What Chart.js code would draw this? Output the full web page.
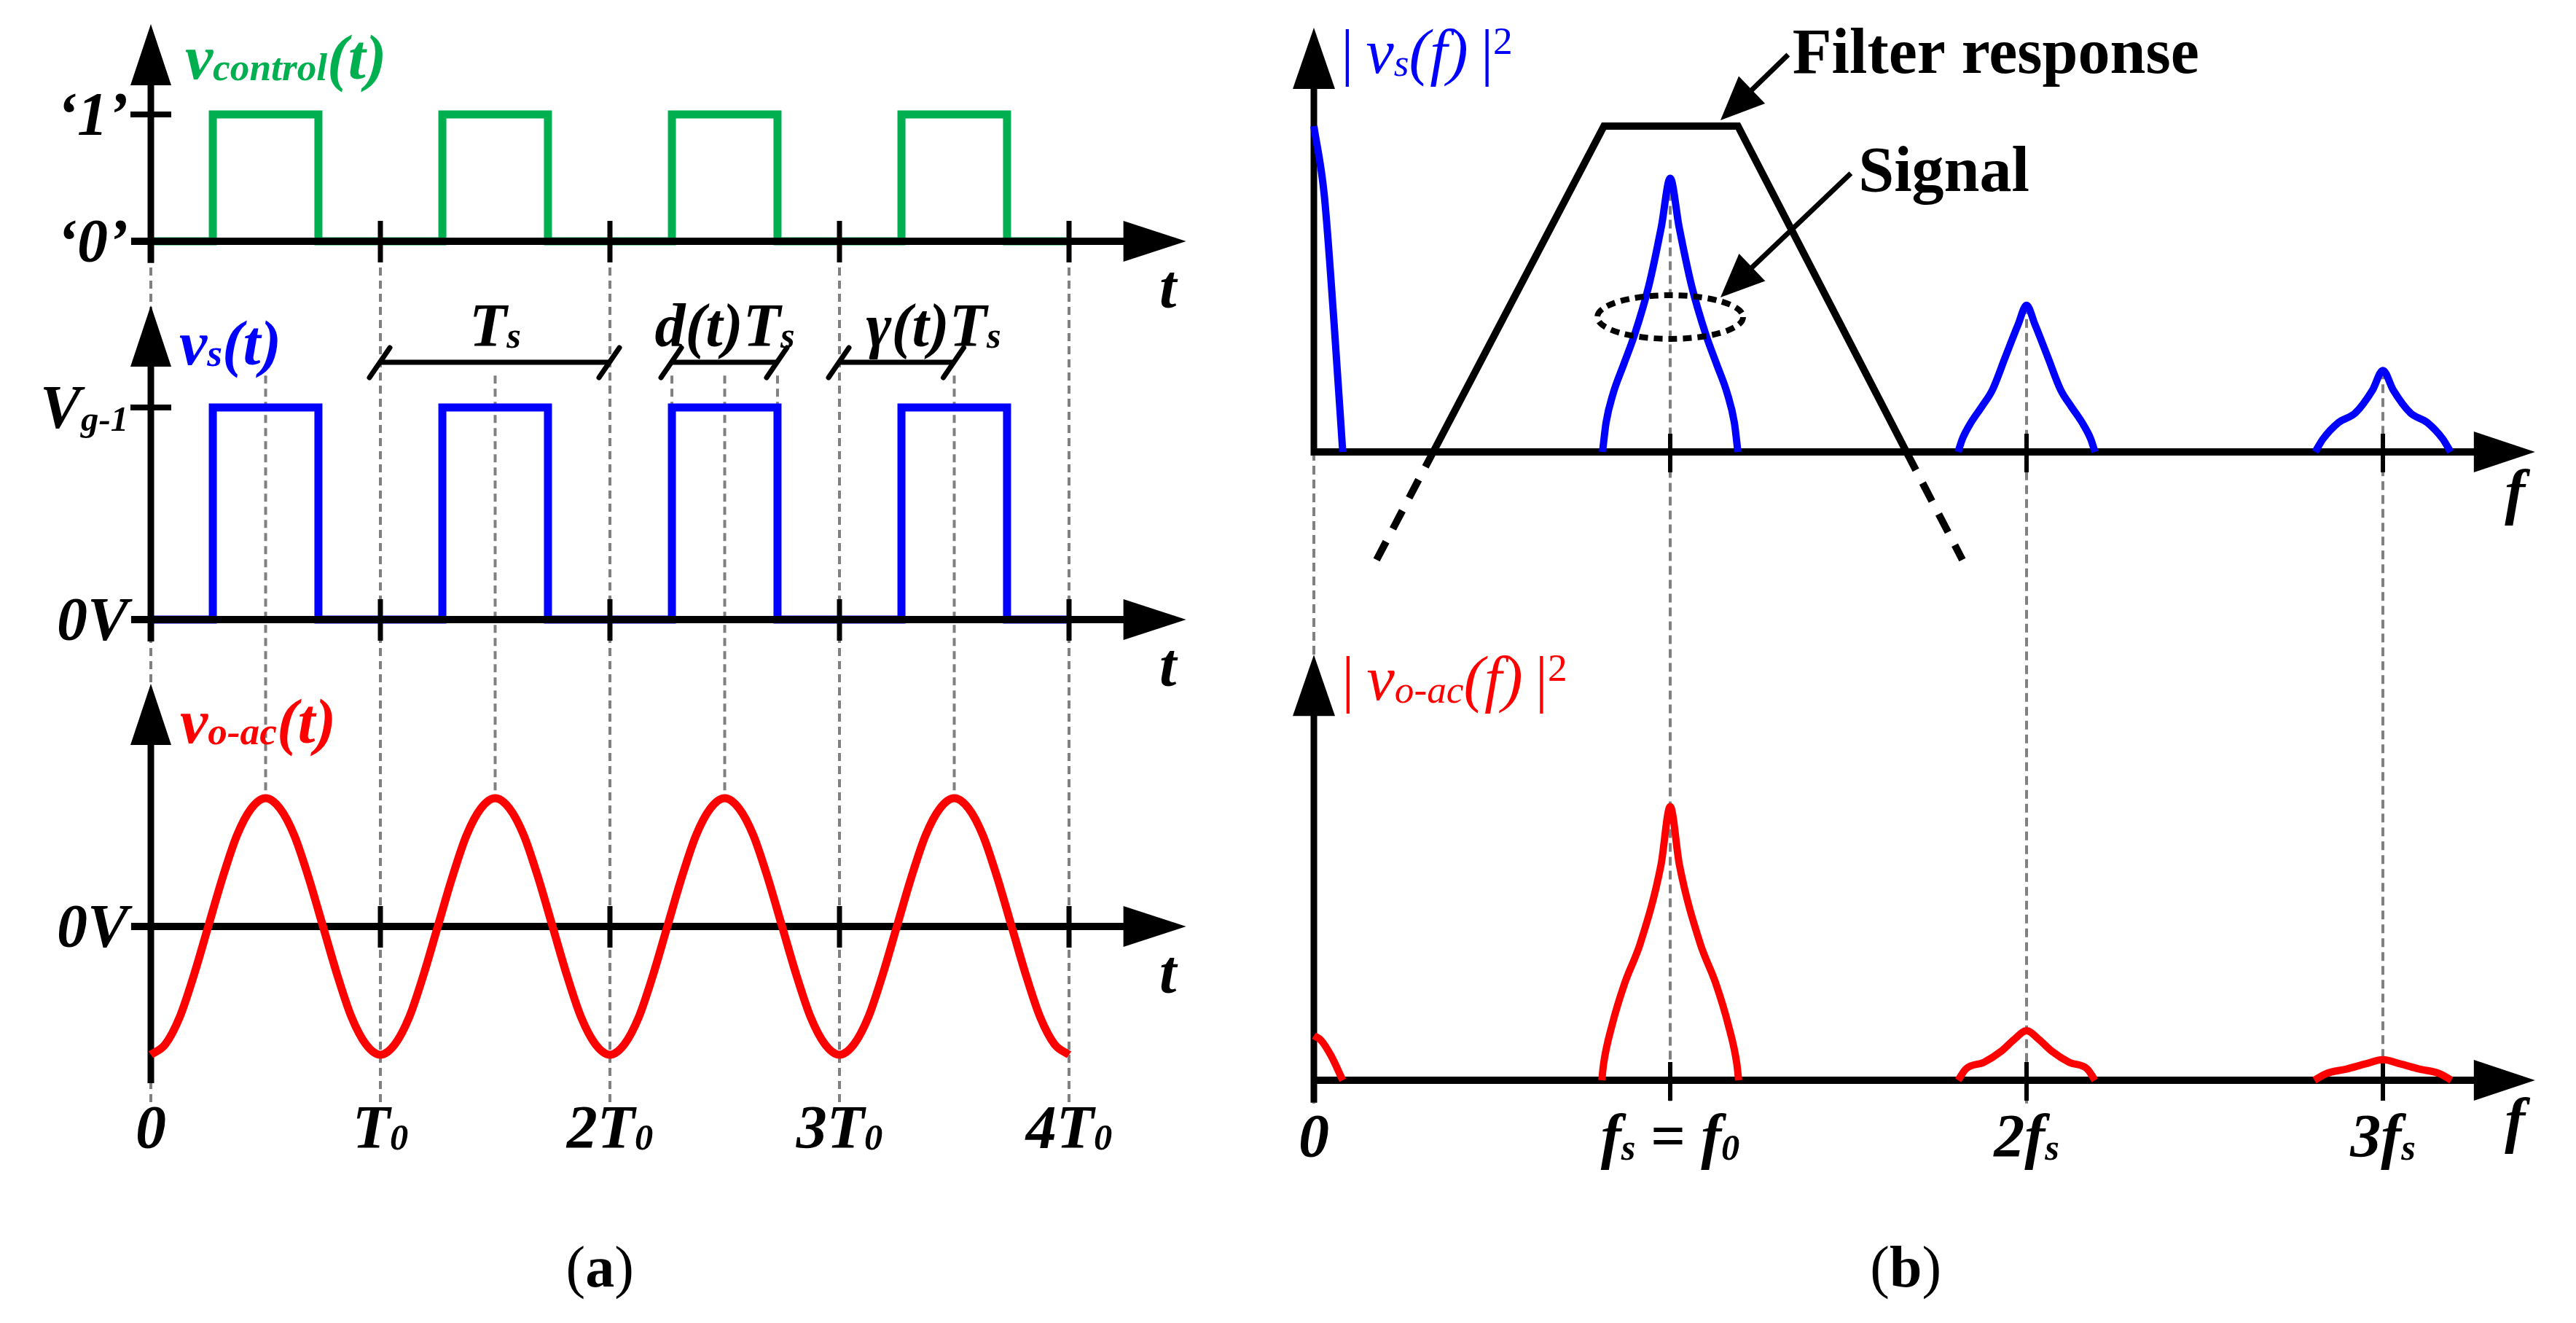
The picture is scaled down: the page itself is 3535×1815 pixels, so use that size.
<!DOCTYPE html>
<html><head><meta charset="utf-8">
<script src="https://cdn.jsdelivr.net/npm/chart.js@4/dist/chart.umd.min.js"></script>
<style>html,body{margin:0;padding:0;background:#fff;overflow:hidden}canvas{display:block}</style>
</head><body>
<canvas id="c" width="3535" height="1815"></canvas>
<script>
// ================= DATA =================
// (a) time domain, t in units of T0
const tTicks = [0, 1, 2, 3, 4];
const tTickLabels = ['0', 'T_0', '2T_0', '3T_0', '4T_0'];
const halfPeriods = [0.5, 1.5, 2.5, 3.5];
const ctrlRise = [0.27, 1.27, 2.27, 3.27];
const ctrlFall = [0.73, 1.73, 2.73, 3.73];
const vsRise = [0.27, 1.27, 2.27, 3.27];
const vsFall = [0.73, 1.73, 2.73, 3.73];
const voT = [0,0.0625,0.125,0.1875,0.25,0.3125,0.375,0.4375,0.5,0.5625,0.625,0.6875,0.75,0.8125,0.875,0.9375,
  1,1.0625,1.125,1.1875,1.25,1.3125,1.375,1.4375,1.5,1.5625,1.625,1.6875,1.75,1.8125,1.875,1.9375,
  2,2.0625,2.125,2.1875,2.25,2.3125,2.375,2.4375,2.5,2.5625,2.625,2.6875,2.75,2.8125,2.875,2.9375,
  3,3.0625,3.125,3.1875,3.25,3.3125,3.375,3.4375,3.5,3.5625,3.625,3.6875,3.75,3.8125,3.875,3.9375,4];
const voV = [-1,-0.92,-0.71,-0.38,0,0.38,0.71,0.92,1,0.92,0.71,0.38,0,-0.38,-0.71,-0.92,
  -1,-0.92,-0.71,-0.38,0,0.38,0.71,0.92,1,0.92,0.71,0.38,0,-0.38,-0.71,-0.92,
  -1,-0.92,-0.71,-0.38,0,0.38,0.71,0.92,1,0.92,0.71,0.38,0,-0.38,-0.71,-0.92,
  -1,-0.92,-0.71,-0.38,0,0.38,0.71,0.92,1,0.92,0.71,0.38,0,-0.38,-0.71,-0.92,-1];
const levelLabelsA = ['‘1’', 'V_{g-1}', null];
const zeroLabelsA = ['‘0’', '0V', '0V'];
const namesA = ['v_{control}(t)', 'v_s(t)', 'v_{o-ac}(t)'];
const markerFrom = [1, 2.27, 3];
const markerTo = [2, 2.73, 3.5];
const markerLabels = ['T_s', 'd(t)T_s', 'γ(t)T_s'];

// (b) frequency domain, f in units of fs
const fTicks = [0, 1, 2, 3];
const fTickLabels = ['0', 'f_s = f_0', '2f_s', '3f_s'];
const filterF = [0.335, 0.814, 1.19, 1.663];
const filterG = [0, 1, 1, 0];
const filterLowF = [0.176, 0.335];
const filterLowG = [-0.331, 0];
const filterHighF = [1.663, 1.82];
const filterHighG = [0, -0.331];
const vsDcF = [0, 0.029, 0.057, 0.081];
const vsDcP = [1.0, 0.79, 0.39, 0];
const vsH1F = [0.81,0.82,0.84,0.87,0.9,0.94,0.975,1,1.025,1.06,1.1,1.13,1.16,1.18,1.19];
const vsH1P = [0,0.09,0.18,0.27,0.36,0.51,0.69,0.84,0.69,0.51,0.36,0.27,0.18,0.09,0];
const vsH2F = [1.808,1.82,1.844,1.875,1.904,1.94,1.976,2,2.024,2.06,2.096,2.125,2.156,2.18,2.192];
const vsH2P = [0,0.04,0.09,0.14,0.19,0.29,0.39,0.45,0.39,0.29,0.19,0.14,0.09,0.04,0];
const vsH3F = [2.81,2.832,2.875,2.923,2.971,3,3.029,3.077,3.125,3.168,3.19];
const vsH3P = [0,0.04,0.09,0.12,0.19,0.25,0.19,0.12,0.09,0.04,0];
const voDcF = [0, 0.02, 0.048, 0.081];
const voDcP = [0.137, 0.123, 0.076, 0];
const voH1F = [0.808,0.813,0.837,0.873,0.916,0.974,1,1.026,1.084,1.127,1.163,1.187,1.192];
const voH1P = [0,0.05,0.17,0.30,0.42,0.66,0.84,0.66,0.42,0.30,0.17,0.05,0];
const voH2F = [1.808,1.83,1.88,1.93,1.965,2,2.035,2.07,2.12,2.17,2.192];
const voH2P = [0,0.035,0.055,0.09,0.125,0.152,0.125,0.09,0.055,0.035,0];
const voH3F = [2.808,2.84,2.9,2.95,3,3.05,3.1,3.16,3.192];
const voH3P = [0,0.02,0.035,0.05,0.063,0.05,0.035,0.02,0];
const namesB = ['|\u2009v_s(f)\u2009|^2', '|\u2009v_{o-ac}(f)\u2009|^2'];
const noteTexts = ['Filter response', 'Signal'];
const captions = ['a', 'b'];

// ================= LAYOUT / STYLE =================
const W = 3535, H = 1815;
const GREEN = '#00B050', BLUE = '#0000FF', RED = '#FF0000', GUIDE = '#808080', BLACK = '#000';
const SERIF = "'Liberation Serif','Times New Roman',serif";
const frameA = { x0: 207, ux: 315, base: [331, 850, 1271], uy: [174, 291, 176] };
const frameB = { x0: 1803, ux: 489, base: [620, 1482], uy: [447, 447] };
const rangeX = (x0, u) => ({ min: -x0 / u, max: (W - x0) / u });
const rangeY = (b, u) => ({ min: -(H - b) / u, max: b / u });

const axA = { start: -0.086, tip: 4.51, tops: [1.713, 1.481, 1.892], bottoms: [-0.171, -0.103, -1.222] };
const axB = { tip: 3.427, tops: [1.302, 1.306], bottoms: [-0.011, -0.069] };

function pts(xs, ys) { return xs.map((x, i) => ({ x, y: ys[i] })); }
function pulses(rise, fall, end) {
  const p = [{ x: 0, y: 0 }];
  rise.forEach((r, i) => { p.push({ x: r, y: 0 }, { x: r, y: 1 }, { x: fall[i], y: 1 }, { x: fall[i], y: 0 }); });
  p.push({ x: end, y: 0 });
  return p;
}
function ds(data, xa, ya, color, width, extra) {
  return Object.assign({ data, xAxisID: xa, yAxisID: ya, borderColor: color, borderWidth: width,
    pointRadius: 0, fill: false, tension: 0, borderJoinStyle: 'miter' }, extra || {});
}
const smooth = { cubicInterpolationMode: 'monotone' };

const datasets = [
  ds(pulses(ctrlRise, ctrlFall, 4), 'xa', 'ya1', GREEN, 11),
  ds(pulses(vsRise, vsFall, 4), 'xa', 'ya2', BLUE, 11),
  ds(pts(voT, voV), 'xa', 'ya3', RED, 11, smooth),
  ds(pts(filterF, filterG), 'xb', 'yb1', BLACK, 10),
  ds(pts(filterLowF, filterLowG), 'xb', 'yb1', BLACK, 10, { borderDash: [28, 20] }),
  ds(pts(filterHighF, filterHighG), 'xb', 'yb1', BLACK, 10, { borderDash: [28, 20] }),
  ds(pts(vsDcF, vsDcP), 'xb', 'yb1', BLUE, 10, smooth),
  ds(pts(vsH1F, vsH1P), 'xb', 'yb1', BLUE, 10, smooth),
  ds(pts(vsH2F, vsH2P), 'xb', 'yb1', BLUE, 10, smooth),
  ds(pts(vsH3F, vsH3P), 'xb', 'yb1', BLUE, 10, smooth),
  ds(pts(voDcF, voDcP), 'xb', 'yb2', RED, 10, smooth),
  ds(pts(voH1F, voH1P), 'xb', 'yb2', RED, 10, smooth),
  ds(pts(voH2F, voH2P), 'xb', 'yb2', RED, 10, smooth),
  ds(pts(voH3F, voH3P), 'xb', 'yb2', RED, 10, smooth),
];

// ================= DRAW HELPERS =================
function richRuns(str) {
  const out = []; let i = 0;
  while (i < str.length) {
    const c = str[i];
    if ((c === '_' || c === '^') && i + 1 < str.length) {
      const mode = c === '_' ? 'sub' : 'sup'; let t;
      if (str[i + 1] === '{') { const j = str.indexOf('}', i + 2); t = str.slice(i + 2, j); i = j + 1; }
      else { t = str[i + 1]; i += 2; }
      out.push({ t, mode });
    } else {
      let j = i; while (j < str.length && str[j] !== '_' && str[j] !== '^') j++;
      out.push({ t: str.slice(i, j), mode: 'n' }); i = j;
    }
  }
  return out;
}
function drawRich(ctx, str, x, y, o) {
  const size = o.size, sub = o.subScale || 0.62;
  const runs = [];
  for (const p of richRuns(str)) {
    const s = p.mode === 'n' ? size : size * sub;
    const dy = p.mode === 'sub' ? (o.subDy != null ? o.subDy : 6) : p.mode === 'sup' ? -(o.supDy != null ? o.supDy : size * 0.4) : 0;
    let cur = null;
    for (const ch of p.t) {
      const up = (o.upright || '').includes(ch);
      if (cur && cur.up === up) cur.t += ch; else { cur = { t: ch, up, s, dy }; runs.push(cur); }
    }
  }
  const fontOf = r => `${r.up ? 'normal' : (o.style || 'italic')} ${r.up ? (o.uprightWeight || 'normal') : (o.weight || 'bold')} ${r.s}px ${SERIF}`;
  let w = 0;
  for (const r of runs) { ctx.font = fontOf(r); r.w = ctx.measureText(r.t).width; w += r.w; }
  let cx = o.align === 'center' ? x - w / 2 : o.align === 'right' ? x - w : x;
  const by = o.vmid ? y + size * 0.33 : y;
  ctx.save(); ctx.fillStyle = o.color || BLACK; ctx.textBaseline = 'alphabetic'; ctx.textAlign = 'left';
  for (const r of runs) { ctx.font = fontOf(r); ctx.fillText(r.t, cx, by + r.dy); cx += r.w; }
  ctx.restore();
}
function seg(ctx, x1, y1, x2, y2, w, c, dash, cap) {
  ctx.save(); ctx.strokeStyle = c; ctx.lineWidth = w; ctx.setLineDash(dash || []); ctx.lineCap = cap || 'butt';
  ctx.beginPath(); ctx.moveTo(x1, y1); ctx.lineTo(x2, y2); ctx.stroke(); ctx.restore();
}
function head(ctx, tx, ty, ang, len, half) {
  const bx = tx - Math.cos(ang) * len, by = ty - Math.sin(ang) * len;
  const nx = -Math.sin(ang) * half, ny = Math.cos(ang) * half;
  ctx.save(); ctx.fillStyle = BLACK; ctx.beginPath(); ctx.moveTo(tx, ty);
  ctx.lineTo(bx + nx, by + ny); ctx.lineTo(bx - nx, by - ny); ctx.closePath(); ctx.fill(); ctx.restore();
}

const diagram = {
  id: 'diagram',
  beforeDatasetsDraw(chart) {
    const ctx = chart.ctx, S = chart.scales;
    const X = (id, v) => S[id].getPixelForValue(v);
    for (const t of tTicks) seg(ctx, X('xa', t), X('ya1', 0), X('xa', t), X('ya3', 0) + 242, 4, GUIDE, [11, 7]);
    for (const t of halfPeriods) seg(ctx, X('xa', t), X('ya2', 1.15), X('xa', t), X('ya3', 1), 4, GUIDE, [11, 7]);
    seg(ctx, X('xa', markerFrom[1]), X('ya2', 1.15), X('xa', markerFrom[1]), X('ya2', 1), 4, GUIDE, [11, 7]);
    seg(ctx, X('xa', markerTo[1]), X('ya2', 1.15), X('xa', markerTo[1]), X('ya2', 1), 4, GUIDE, [11, 7]);
    const tops = [0, Math.max(...vsH1P), Math.max(...vsH2P), Math.max(...vsH3P)];
    fTicks.forEach((f, i) => seg(ctx, X('xb', f), X('yb1', tops[i]), X('xb', f), X('yb2', 0) + 32, 4, GUIDE, [12, 7]));
    drawPanelA(ctx, X, 2);
    ['yb1', 'yb2'].forEach((id, i) => {
      const x0 = X('xb', 0), yb = X(id, 0), xt = X('xb', axB.tip);
      seg(ctx, x0, yb, xt - 80, yb, 10, BLACK);
      head(ctx, xt, yb, 0, 84, 28);
      const yTop = X(id, axB.tops[i]);
      seg(ctx, x0, X(id, axB.bottoms[i]), x0, yTop + 80, 9, BLACK);
      head(ctx, x0, yTop, -Math.PI / 2, 84, 29);
      for (const f of fTicks) if (f > 0) seg(ctx, X('xb', f), yb - 25, X('xb', f), yb + 28, 6, BLACK);
    });
  },
  afterDatasetsDraw(chart) {
    const ctx = chart.ctx, S = chart.scales;
    const X = (id, v) => S[id].getPixelForValue(v);
    drawPanelA(ctx, X, 0); drawPanelA(ctx, X, 1);
    const lab = { size: 84, weight: 'bold' };
    const nameAt = [[0.149, 1.28], [0.124, 1.203], [0.127, 1.432]];
    const colsA = [GREEN, BLUE, RED];
    ['ya1', 'ya2', 'ya3'].forEach((id, i) => {
      drawRich(ctx, namesA[i], X('xa', nameAt[i][0]), X(id, nameAt[i][1]), { size: 86, weight: 'bold', color: colsA[i], subDy: 2 });
      const xr = X('xa', 0) - 31;
      if (levelLabelsA[i]) drawRich(ctx, levelLabelsA[i], xr, X(id, 1), { size: 84, weight: 'bold', align: 'right', vmid: true, subScale: 0.58, subDy: 4 });
      drawRich(ctx, zeroLabelsA[i], xr, X(id, 0), { size: 84, weight: 'bold', align: 'right', vmid: true });
      drawRich(ctx, 't', X('xa', 4.394), X(id, 0) + 91, lab);
    });
    tTicks.forEach((t, i) => drawRich(ctx, tTickLabels[i], X('xa', t), X('ya3', 0) + 304, { size: 84, weight: 'bold', align: 'center', subScale: 0.6, subDy: 2 }));
    const my = X('ya2', 1.213);
    const labCx = [1.5, 2.5, 3.41];
    markerFrom.forEach((a, i) => {
      const x1 = X('xa', a), x2 = X('xa', markerTo[i]);
      seg(ctx, x1, my, x2, my, 7, BLACK);
      for (const xx of [x1, x2]) seg(ctx, xx - 15, my + 21, xx + 13, my - 20, 7, BLACK, null, 'round');
      drawRich(ctx, markerLabels[i], X('xa', labCx[i]), my - 22, { size: 84, weight: 'bold', align: 'center', subScale: 0.6, subDy: 2 });
    });
    const nameAtB = [[0.076, 1.163], [0.078, 1.168]];
    const colsB = [BLUE, RED];
    ['yb1', 'yb2'].forEach((id, i) => {
      drawRich(ctx, namesB[i], X('xb', nameAtB[i][0]), X(id, nameAtB[i][1]), { size: 86, weight: 'normal', color: colsB[i], upright: '|2\u2009', subDy: 4, supDy: 26 });
      drawRich(ctx, 'f', X('xb', 3.342), X(id, 0) + 83, lab);
    });
    fTicks.forEach((f, i) => drawRich(ctx, fTickLabels[i], X('xb', f), X('yb2', 0) + 105, { size: 84, weight: 'bold', align: 'center', subScale: 0.6, subDy: 4, upright: '=', uprightWeight: 'bold' }));
    ctx.save(); ctx.strokeStyle = BLACK; ctx.lineWidth = 8; ctx.setLineDash([12, 8]);
    const cx = X('xb', 1), cy = X('yb1', 0.414);
    const rx = X('xb', 1.2045) - cx, ry = cy - X('yb1', 0.481);
    ctx.beginPath(); ctx.ellipse(cx, cy, rx, ry, 0, 0, Math.PI * 2); ctx.stroke(); ctx.restore();
    const notes = [
      { at: [1.343, 1.163], from: [1.331, 1.219], to: [1.141, 1.018] },
      { at: [1.528, 0.801], from: [1.507, 0.855], to: [1.141, 0.474] },
    ];
    notes.forEach((n, i) => {
      const fx = X('xb', n.from[0]), fy = X('yb1', n.from[1]), tx = X('xb', n.to[0]), ty = X('yb1', n.to[1]);
      const ang = Math.atan2(ty - fy, tx - fx);
      seg(ctx, fx, fy, tx - Math.cos(ang) * 40, ty - Math.sin(ang) * 40, 7, BLACK);
      head(ctx, tx, ty, ang, 60, 26);
      ctx.save(); ctx.fillStyle = BLACK; ctx.font = `bold 88px ${SERIF}`; ctx.textAlign = 'left';
      ctx.fillText(noteTexts[i], X('xb', n.at[0]), X('yb1', n.at[1])); ctx.restore();
    });
    const capX = [X('xa', 1.956), X('xb', 1.661)];
    const capY = X('ya3', 0) + 494;
    captions.forEach((c, i) => {
      ctx.save(); ctx.fillStyle = BLACK; ctx.textAlign = 'left';
      const pr = `normal 80px ${SERIF}`, bd = `bold 80px ${SERIF}`;
      ctx.font = pr; const wp = ctx.measureText('(').width, wq = ctx.measureText(')').width;
      ctx.font = bd; const wc = ctx.measureText(c).width;
      let x = capX[i] - (wp + wc + wq) / 2;
      ctx.font = pr; ctx.fillText('(', x, capY); x += wp;
      ctx.font = bd; ctx.fillText(c, x, capY); x += wc;
      ctx.font = pr; ctx.fillText(')', x, capY);
      ctx.restore();
    });
  }
};
function drawPanelA(ctx, X, i) {
  const id = ['ya1', 'ya2', 'ya3'][i];
  const x0 = X('xa', 0), yb = X(id, 0), xl = X('xa', axA.start), xt = X('xa', axA.tip);
  seg(ctx, xl, yb, xt - 80, yb, 10, BLACK);
  head(ctx, xt, yb, 0, 86, 28);
  const yTop = X(id, axA.tops[i]);
  seg(ctx, x0, X(id, axA.bottoms[i]), x0, yTop + 80, 9, BLACK);
  head(ctx, x0, yTop, -Math.PI / 2, 84, 28);
  for (const t of tTicks) if (t > 0) seg(ctx, X('xa', t), yb - 28, X('xa', t), yb + 29, 7, BLACK);
  if (levelLabelsA[i]) { const yl = X(id, 1); seg(ctx, x0 - 28, yl, x0 + 28, yl, 8, BLACK); }
}

const hid = r => Object.assign({ type: 'linear', display: false }, r);
new Chart(document.getElementById('c'), {
  type: 'line',
  data: { datasets },
  options: {
    responsive: false, animation: false, events: [], devicePixelRatio: 1,
    layout: { padding: 0 },
    plugins: { legend: { display: false }, tooltip: { enabled: false }, title: { display: false } },
    scales: {
      x: hid({ min: 0, max: 1 }), y: hid({ min: 0, max: 1 }),
      xa: hid(rangeX(frameA.x0, frameA.ux)),
      xb: hid(rangeX(frameB.x0, frameB.ux)),
      ya1: hid(rangeY(frameA.base[0], frameA.uy[0])),
      ya2: hid(rangeY(frameA.base[1], frameA.uy[1])),
      ya3: hid(rangeY(frameA.base[2], frameA.uy[2])),
      yb1: hid(rangeY(frameB.base[0], frameB.uy[0])),
      yb2: hid(rangeY(frameB.base[1], frameB.uy[1])),
    }
  },
  plugins: [diagram]
});
</script>
</body></html>
